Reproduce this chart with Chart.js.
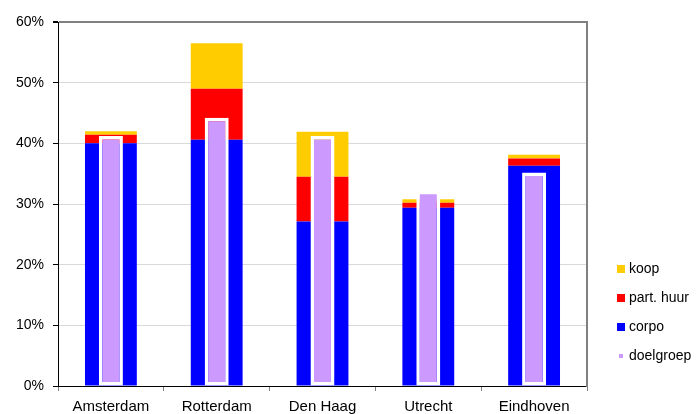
<!DOCTYPE html>
<html>
<head>
<meta charset="utf-8">
<script src="https://cdn.jsdelivr.net/npm/chart.js@4"></script>
<style>
  html, body { margin: 0; padding: 0; background: #fff; }
  #wrap { position: relative; width: 697px; height: 414px; }
  #c { position: absolute; left: 0; top: 0; }
  #legend { position: absolute; left: 0; top: 0; font-family: "Liberation Sans", Arial, sans-serif; font-size: 14px; color: #000; }
  .li { position: absolute; white-space: nowrap; line-height: 16px; }
  .sw { position: absolute; }
</style>
</head>
<body>
<div id="wrap">
  <canvas id="c" width="697" height="414"></canvas>
  <div id="legend"></div>
</div>
<script>
const categories = ["Amsterdam", "Rotterdam", "Den Haag", "Utrecht", "Eindhoven"];
const corpo      = [40.0, 40.6, 27.1, 29.4, 36.3];
const partHuur   = [1.4, 8.4, 7.4, 0.8, 1.2];
const koop       = [0.6, 7.5, 7.4, 0.6, 0.6];
const doelgroep  = [41.2, 44.2, 41.2, 32.2, 35.2];
const yTicks     = [0, 10, 20, 30, 40, 50, 60];

const FONT = "'Liberation Sans', Arial, sans-serif";

const datasets = [
  { label: "corpo", data: corpo, backgroundColor: "#0000FF", stack: "a", order: 1,
    barPercentage: 0.49, categoryPercentage: 1, grouped: false, borderWidth: 0 },
  { label: "part. huur", data: partHuur, backgroundColor: "#FF0000", stack: "a", order: 1,
    barPercentage: 0.49, categoryPercentage: 1, grouped: false, borderWidth: 0 },
  { label: "koop", data: koop, backgroundColor: "#FFCC00", stack: "a", order: 1,
    barPercentage: 0.49, categoryPercentage: 1, grouped: false, borderWidth: 0 },
  { label: "doelgroep", data: doelgroep, backgroundColor: "#CC99FF", stack: "b", order: 0,
    barPercentage: 0.227, categoryPercentage: 1, grouped: false,
    borderWidth: 3.5, borderColor: "#FFFFFF", borderSkipped: false }
];

const chart = new Chart(document.getElementById("c"), {
  type: "bar",
  data: { labels: categories, datasets: datasets },
  options: {
    responsive: false,
    animation: false,
    devicePixelRatio: 1,
    layout: { padding: { left: 0, top: 22, right: 110, bottom: 0 } },
    plugins: { legend: { display: false }, tooltip: { enabled: false } },
    scales: {
      x: {
        stacked: false,
        grid: { display: true, drawOnChartArea: false, offset: true, tickLength: 5, color: "#808080" },
        border: { display: true, color: "#000000", width: 1 },
        ticks: { color: "#000", font: { family: FONT, size: 15 }, padding: 7, maxRotation: 0, autoSkip: false },
        afterFit: (s) => { s.height = 28; }
      },
      y: {
        stacked: true,
        min: 0, max: 60,
        afterBuildTicks: (s) => { s.ticks = yTicks.map(v => ({ value: v })); },
        grid: {
          color: (ctx) => (ctx.tick && ctx.tick.value === 60) ? "#808080" : "#D9D9D9",
          lineWidth: (ctx) => (ctx.tick && ctx.tick.value === 60) ? 2 : 1,
          tickColor: "#000000", tickLength: 5
        },
        border: { display: true, color: "#000000", width: 1 },
        ticks: { color: "#000", font: { family: FONT, size: 14 }, padding: 9,
                 callback: (v) => v + "%" },
        afterFit: (s) => { s.width = 58; }
      },
      y2: {
        position: "right",
        min: 0, max: 60,
        grid: { drawOnChartArea: false, drawTicks: false },
        border: { display: true, color: "#808080", width: 2 },
        ticks: { display: false },
        afterFit: (s) => { s.width = 0; }
      }
    }
  }
});

// HTML legend built from the datasets
const legendOrder = ["koop", "part. huur", "corpo", "doelgroep"];
const legendY = [269, 298, 327, 356];
const lg = document.getElementById("legend");
legendOrder.forEach((name, i) => {
  const ds = datasets.find(d => d.label === name);
  const small = name === "doelgroep";
  const size = small ? 4 : 8;
  const sw = document.createElement("div");
  sw.className = "sw";
  sw.style.left = (small ? 619 : 617) + "px";
  sw.style.top = (legendY[i] - size / 2) + "px";
  sw.style.width = size + "px";
  sw.style.height = size + "px";
  sw.style.background = ds.backgroundColor;
  lg.appendChild(sw);
  const t = document.createElement("div");
  t.className = "li";
  t.style.left = "629px";
  t.style.top = (legendY[i] - 9) + "px";
  t.textContent = name;
  lg.appendChild(t);
});
</script>
</body>
</html>
